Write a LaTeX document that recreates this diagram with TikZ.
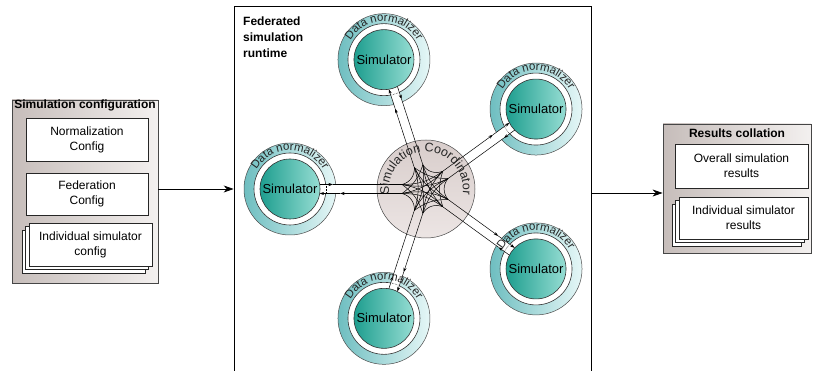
\documentclass[tikz,border=0pt]{standalone}
\usepackage{fontspec}
\setmainfont{Liberation Sans}
\usetikzlibrary{arrows.meta,calc,shadows,decorations.text}

\definecolor{panelL}{RGB}{198,189,186}
\definecolor{panelR}{RGB}{243,240,239}
\definecolor{hubT}{RGB}{216,205,203}
\definecolor{hubB}{RGB}{236,229,228}
\definecolor{ringL}{RGB}{110,190,192}
\definecolor{ringR}{RGB}{230,247,247}
\definecolor{simL}{RGB}{30,158,143}
\definecolor{simR}{RGB}{150,221,211}
\definecolor{edge}{RGB}{70,70,70}
\newcommand\ringfont{\fontsize{11.5}{11.5}\selectfont}
\newcommand\hubfont{\fontsize{12.5}{12.5}\selectfont}

\begin{document}
\begin{tikzpicture}[x=1pt, y=1pt,
	panel/.style={draw=edge, line width=0.9pt, left color=panelL, right color=panelR, inner sep=0pt},
	card/.style={draw=black!85, line width=0.6pt, fill=white, align=center, inner sep=0pt, font=\fontsize{12}{15}\selectfont},
	stack/.style={card,
		copy shadow={shadow xshift=-7pt, shadow yshift=-7pt, draw=black!85, line width=0.6pt, fill=white},
		copy shadow={shadow xshift=-3.5pt, shadow yshift=-3.5pt, draw=black!85, line width=0.6pt, fill=white}},
	title/.style={font=\fontsize{12}{16}\selectfont\bfseries, inner sep=0pt},
	flow/.style={-{Stealth[length=10pt, width=7pt]}, line width=0.7pt},
	pipe/.style={line width=0.5pt},
	tip/.style={pipe, -{Stealth[length=4.5pt, width=3pt]}},
	hub/.style={circle, draw=edge, line width=0.5pt, top color=hubT, bottom color=hubB, minimum size=98pt, inner sep=0pt},
	simdisk/.style={circle, draw=black!80, line width=0.6pt, left color=simL, right color=simR, minimum size=60pt, inner sep=0pt, font=\fontsize{13}{13}\selectfont},
]
	\useasboundingbox (0,0) rectangle (813,371);

	% configuration
	\node[panel, minimum width=146pt, minimum height=183pt] (config) at (85,179.5) {};
	\node[title] (configT) at (85,266) {Simulation configuration};
	\node[card, minimum width=122pt, minimum height=43pt] (norm) at (87,231.5) {Normalization\\Config};
	\node[card, minimum width=122pt, minimum height=42pt] (fed) at (87,177) {Federation\\Config};
	\node[stack, minimum width=123pt, minimum height=43pt] (indiv) at (90.5,126.5) {Individual simulator\\config};

	% runtime
	\node[draw, line width=0.8pt, minimum width=357pt, minimum height=385pt, inner sep=0pt] (runtime) at (412.5,172.5) {};
	\node[title, align=left, anchor=north west] (runtimeT) at (243,354) {Federated\\simulation\\runtime};

	% results
	\node[panel, minimum width=148pt, minimum height=129pt] (results) at (737,182.5) {};
	\node[title] (resultsT) at (737,238) {Results collation};
	\node[card, minimum width=133pt, minimum height=44pt] (overall) at (741.5,205) {Overall simulation\\results};
	\node[stack, minimum width=129pt, minimum height=42pt] (simres) at (743.5,153) {Individual simulator\\results};

	\draw[flow] (config.east |- 0,182) -- (runtime.west |- 0,182);
	\draw[flow] (runtime.east |- 0,178) -- (results.west |- 0,178);

	\node[hub] (coord) at (426,182) {};

	\foreach \k in {0,...,4} {
		\pgfmathsetmacro\ang{180-72*\k}
		\coordinate (s\k) at ($(coord.center)+(\ang:136)$);
		\draw[draw=black!70, line width=0.5pt, left color=ringL, right color=ringR] (s\k) circle[radius=46];
		\draw[black!80, line width=0.6pt, fill=white] (s\k) circle[radius=36];
	}

	% pipes to the coordinator
	\foreach \k in {0,...,4} {
		\pgfmathsetmacro\ang{180-72*\k}
		\pgfmathtruncatemacro\na{2*(4-\k)}
		\pgfmathtruncatemacro\nb{2*(4-\k)+1}
		\begin{scope}[shift={(coord.center)}, rotate=\ang]
			\fill[white] (50,-4.5) -- (106.3,-4.5) -- (106.3,4.5) -- (50,4.5) -- cycle;
			\coordinate (e\na) at (24,-4.5);
			\coordinate (e\nb) at (24,4.5);
			\coordinate (o\k) at (93,-4.5);
			\coordinate (i\k) at (86,4.5);
			\coordinate (dm\k) at (106.3,-4.5);
			\coordinate (dp\k) at (106.3,4.5);
			\coordinate (gm\k) at (100,-4.5);
			\coordinate (gp\k) at (100,4.5);
		\end{scope}
		\node[simdisk] (sim\k) at (s\k) {Simulator};
		\draw[tip] (e\nb) -- (i\k);
		\draw[tip] (i\k) -- (dp\k);
		\draw[tip] (dm\k) -- (o\k);
		\draw[pipe] (o\k) -- (e\na);
		\draw[pipe, densely dotted] (gm\k) -- (gp\k);
	}

	% star
	\foreach \i in {0,...,9} {
		\pgfmathtruncatemacro\ia{mod(\i+3,10)}
		\pgfmathtruncatemacro\ib{mod(\i+4,10)}
		\draw[pipe] (e\i) to[bend left=18] (e\ia);
		\draw[pipe] (e\i) to[bend left=18] (e\ib);
	}
	\foreach \i in {1,3,...,9} {
		\pgfmathtruncatemacro\ia{mod(\i+1,10)}
		\draw[pipe] (e\i) to[bend left=40] (e\ia);
	}

	\foreach \k in {0,...,4}
		\path[decorate, decoration={text along path, text align=center, text color=black!85,
			text={|\ringfont|Data normalizer}}] ($(s\k)+(165:38.5)$) arc[start angle=165, end angle=15, radius=38.5];
	\path[decorate, decoration={text along path, text align=center, text color=black!85,
		text={|\hubfont|Simulation Coordinator}}] ($(coord.center)+(205:37)$) arc[start angle=205, end angle=-25, radius=37];
\end{tikzpicture}
\end{document}
